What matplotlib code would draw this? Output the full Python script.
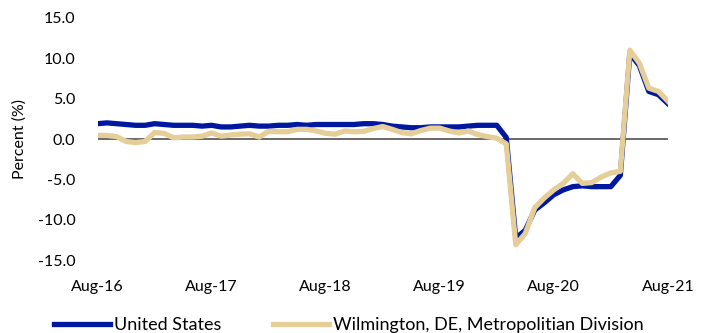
import matplotlib.pyplot as plt
import numpy as np

plt.rcParams['font.family'] = ['Lato', 'DejaVu Sans']

# monthly, Aug-16 .. Aug-21
months = np.arange(61)
tick_pos = [0, 12, 24, 36, 48, 60]
tick_labels = ['Aug-16', 'Aug-17', 'Aug-18', 'Aug-19', 'Aug-20', 'Aug-21']

us = [1.9, 2.0, 1.9, 1.8, 1.7, 1.7, 1.9, 1.8, 1.7, 1.7,
      1.7, 1.6, 1.7, 1.5, 1.5, 1.6, 1.7, 1.6, 1.6, 1.7,
      1.7, 1.8, 1.7, 1.8, 1.8, 1.8, 1.8, 1.8, 1.9, 1.9,
      1.8, 1.6, 1.5, 1.4, 1.4, 1.5, 1.5, 1.5, 1.5, 1.6,
      1.7, 1.7, 1.7, 0.2, -12.3, -11.3, -8.8, -7.9, -6.9, -6.3,
      -5.9, -5.8, -5.9, -5.9, -5.9, -4.5, 10.6, 9.1, 5.9, 5.5,
      4.4]

wilm = [0.45, 0.45, 0.3, -0.3, -0.45, -0.3, 0.8, 0.7, 0.15, 0.25,
        0.25, 0.35, 0.75, 0.35, 0.5, 0.6, 0.65, 0.25, 0.95, 0.9,
        0.9, 1.2, 1.2, 1.0, 0.7, 0.6, 1.0, 0.9, 0.95, 1.3,
        1.55, 1.2, 0.8, 0.65, 1.05, 1.35, 1.35, 1.0, 0.75, 1.0,
        0.55, 0.3, 0.1, -0.6, -13.1, -11.7, -8.5, -7.3, -6.3, -5.5,
        -4.3, -5.5, -5.4, -4.7, -4.2, -4.0, 11.0, 9.4, 6.3, 5.9,
        4.7]

fig = plt.figure(figsize=(7.12, 3.33), dpi=100)
ax = fig.add_axes([0.137, 0.219, 0.801, 0.727])

ax.axhline(0, color='#404040', lw=1.1, zorder=1)
ax.plot(months, us, color='#00189F', lw=3.8, label='United States', zorder=2)
ax.plot(months, wilm, color='#E5CE98', lw=3.8,
        label='Wilmington, DE, Metropolitian Division', zorder=3)

ax.set_xlim(0, 60)
ax.set_ylim(-15, 15)
ax.set_yticks([-15, -10, -5, 0, 5, 10, 15])
ax.set_yticklabels([f'{v:.1f}' for v in [-15, -10, -5, 0, 5, 10, 15]])
ax.set_xticks(tick_pos)
ax.set_xticklabels(tick_labels)
ax.tick_params(length=0, labelsize=11.5, colors='black')
ax.tick_params(axis='x', pad=14)
ax.tick_params(axis='y', pad=16)
for s in ax.spines.values():
    s.set_visible(False)
ax.set_ylabel('Percent (%)', fontsize=11.5, labelpad=8)

fig.legend(loc='lower center', bbox_to_anchor=(0.49, -0.05), ncol=2,
           frameon=False, fontsize=13, handlelength=3.1,
           handletextpad=0.22, columnspacing=2.9)

fig.savefig('out.png', dpi=100)
